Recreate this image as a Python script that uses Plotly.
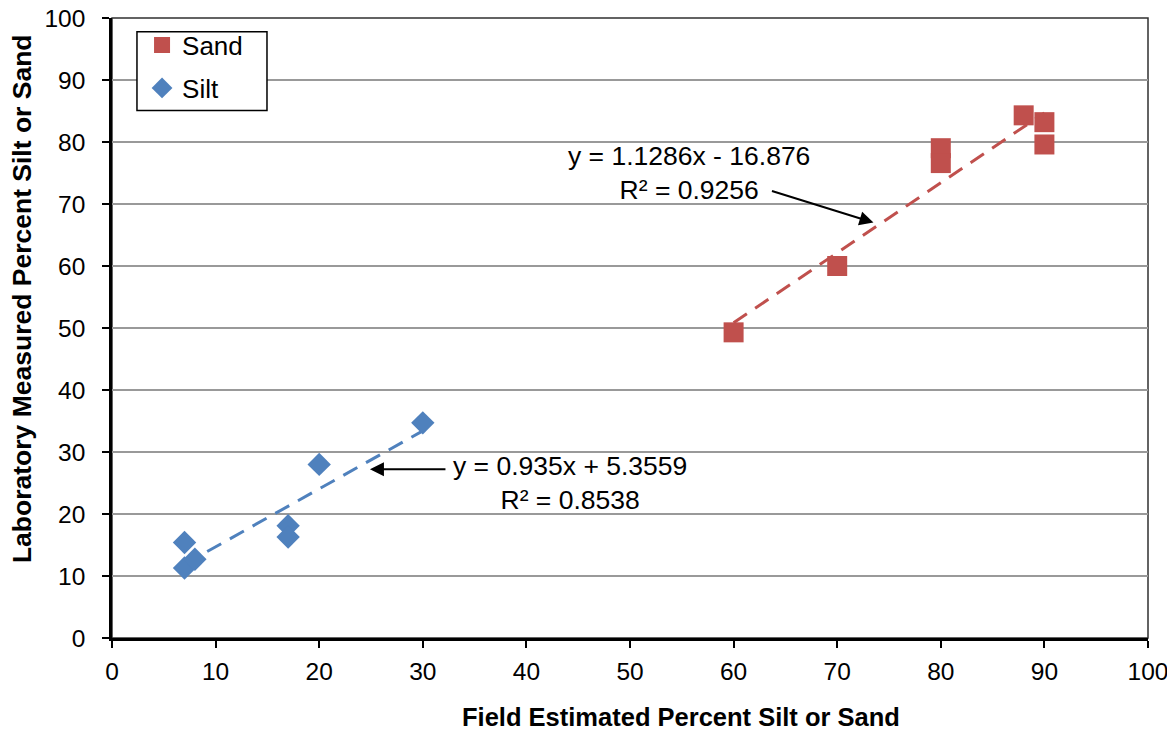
import numpy as np
import plotly.graph_objects as go

sand_x = [60, 70, 80, 80, 88, 90, 90]
sand_y = [49.3, 60.0, 79.0, 76.6, 84.3, 83.2, 79.6]
silt_x = [7, 7, 8, 17, 17, 20, 30]
silt_y = [15.4, 11.3, 12.7, 18.1, 16.3, 28.0, 34.7]

sand_fit = (1.1286, -16.876)
silt_fit = (0.935, 5.3559)
sand_label = "y = 1.1286x - 16.876<br>R² = 0.9256"
silt_label = "y = 0.935x + 5.3559<br>R² = 0.8538"
x_title = "Field Estimated Percent Silt or Sand"
y_title = "Laboratory Measured Percent Silt or Sand"

tick_vals = list(range(0, 101, 10))

SAND = "#C0504D"
SILT = "#4F81BD"
FONT = "Liberation Sans, Arial, sans-serif"

fig = go.Figure()

def fit_line(xs, coef):
    xr = np.array([min(xs), max(xs)], dtype=float)
    return xr, coef[0] * xr + coef[1]

fx, fy = fit_line(sand_x, sand_fit)
fig.add_trace(go.Scatter(x=fx, y=fy, mode="lines", showlegend=False,
                         line=dict(color=SAND, width=3, dash="16px,10px"), hoverinfo="skip"))
fx, fy = fit_line(silt_x, silt_fit)
fig.add_trace(go.Scatter(x=fx, y=fy, mode="lines", showlegend=False,
                         line=dict(color=SILT, width=3, dash="16px,10px"), hoverinfo="skip"))

fig.add_trace(go.Scatter(x=sand_x, y=sand_y, mode="markers", name="Sand",
                         legendgroup="a",
                         marker=dict(symbol="square", size=20, color=SAND)))
fig.add_trace(go.Scatter(x=silt_x, y=silt_y, mode="markers", name="Silt",
                         legendgroup="b",
                         marker=dict(symbol="diamond", size=18, color=SILT)))

axis_common = dict(
    range=[0, 100], tickvals=tick_vals, ticks="outside", ticklen=7, tickwidth=2,
    tickcolor="black", showline=True, linecolor="black", linewidth=2.5,
    tickfont=dict(family=FONT, size=24.5, color="black"), zeroline=False,
    automargin=False, ticklabeloverflow="allow",
)

fig.update_xaxes(**axis_common, showgrid=False, ticklabelstandoff=3)
fig.update_yaxes(**axis_common, showgrid=True, gridcolor="#999999", gridwidth=2,
                 ticklabelstandoff=12)

# axis titles (placed as in the reference, slightly off-centre)
fig.add_annotation(text="<b>" + x_title + "</b>", xref="paper", yref="paper",
                   x=0.549, y=-0.1273, xanchor="center", yanchor="middle", showarrow=False,
                   font=dict(family=FONT, size=25.5, color="black"))
fig.add_annotation(text="<b>" + y_title + "</b>", xref="paper", yref="paper",
                   x=-0.087, y=0.548, xanchor="center", yanchor="middle", showarrow=False,
                   textangle=-90, font=dict(family=FONT, size=26.5, color="black"))

# top/right plot-area border
fig.add_shape(type="rect", xref="paper", yref="paper", x0=0, y0=0, x1=1, y1=1,
              line=dict(color="#303030", width=1.5), layer="below")
# legend box
fig.add_shape(type="rect", xref="paper", yref="paper", x0=0.0241, x1=0.1496,
              y0=0.851, y1=0.978, line=dict(color="black", width=1.5),
              fillcolor="white", layer="above")

# Trendline labels
fig.add_annotation(x=55.7, y=75.0, text=sand_label, showarrow=False, align="center",
                   font=dict(family=FONT, size=26.5, color="black"))
fig.add_annotation(x=44.2, y=25.0, text=silt_label, showarrow=False, align="center",
                   font=dict(family=FONT, size=26.5, color="black"))
# Arrows
fig.add_annotation(x=73.5, y=67.0, ax=-103, ay=-32, text="", showarrow=True,
                   arrowhead=2, arrowsize=1.4, arrowwidth=2, arrowcolor="black")
fig.add_annotation(x=24.9, y=27.2, ax=77, ay=0, text="", showarrow=True,
                   arrowhead=2, arrowsize=1.4, arrowwidth=2, arrowcolor="black")

fig.update_layout(
    width=1159, height=722,
    margin=dict(l=104, r=19, t=9.5, b=92),
    paper_bgcolor="white", plot_bgcolor="white",
    font=dict(family=FONT, color="black"),
    legend=dict(x=0.029, y=0.994, xanchor="left", yanchor="top",
                borderwidth=0, bgcolor="rgba(0,0,0,0)",
                font=dict(family=FONT, size=26, color="black"),
                itemwidth=30, tracegroupgap=6),
)

fig.write_html("out.html")
